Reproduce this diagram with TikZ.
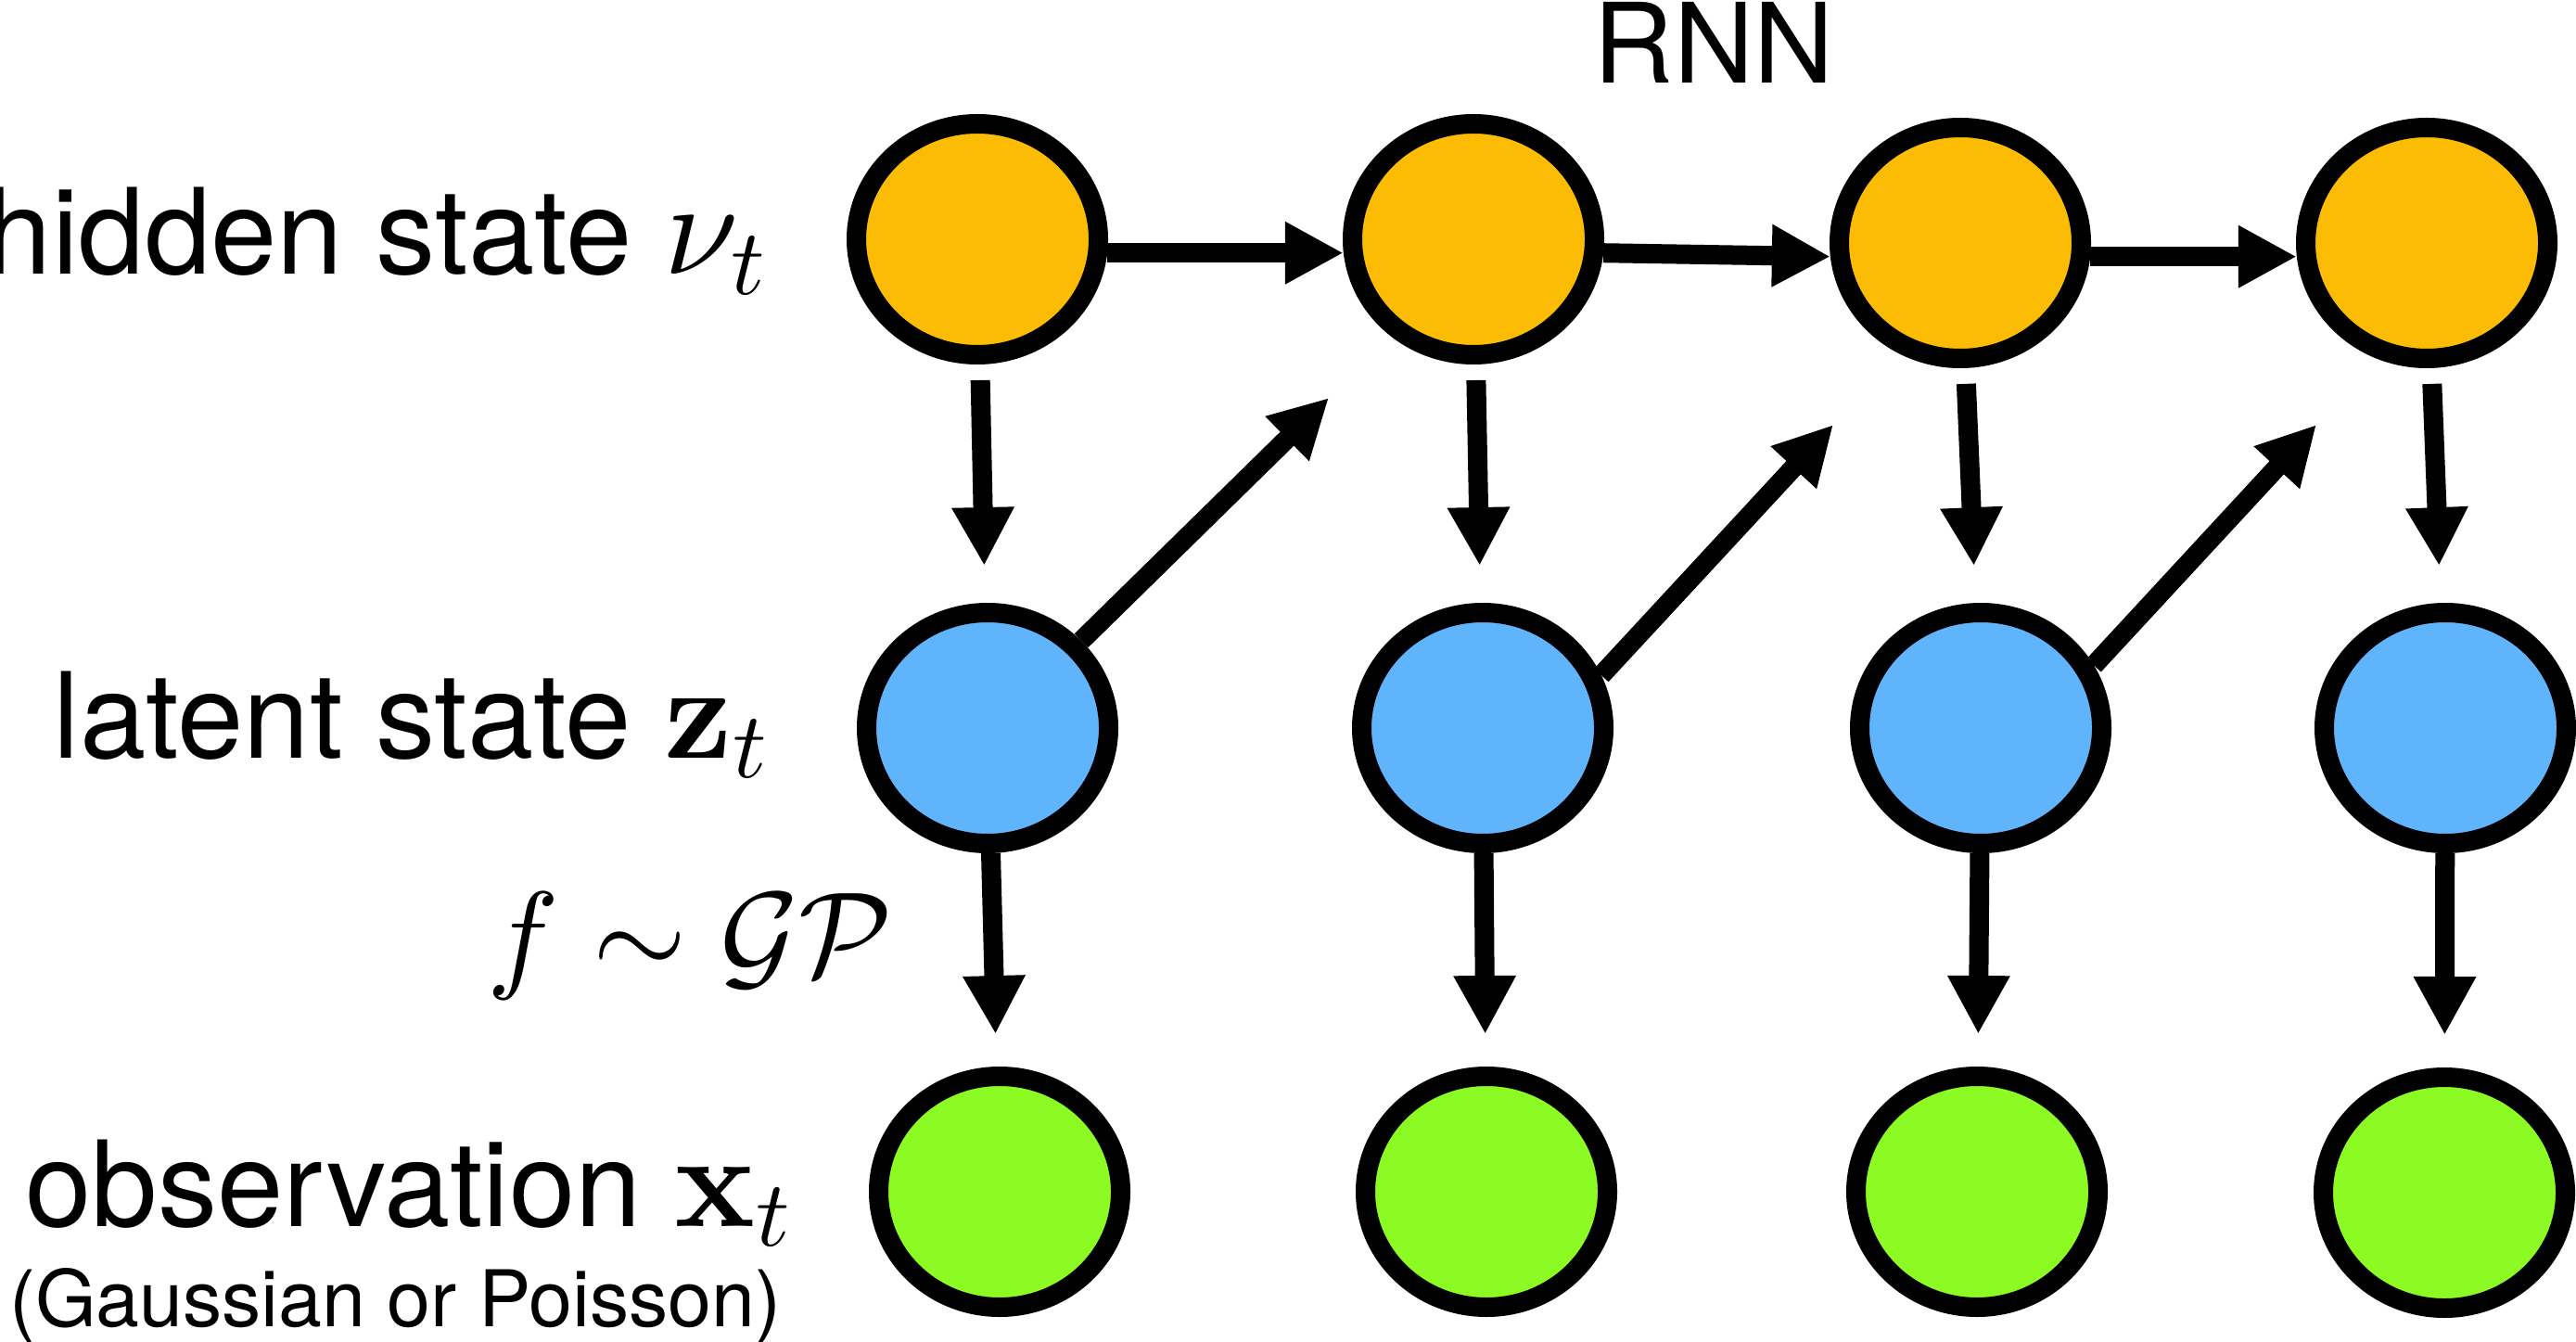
\documentclass[tikz,border=0pt]{standalone}
\usepackage[no-math]{fontspec}
\setmainfont{TeX Gyre Heros}
\usepackage{xcolor}
\usepackage{amssymb}
\usepackage{tikz}
\usetikzlibrary{arrows.meta,shapes.geometric}

% scalable cm math fonts
\DeclareFontShape{OML}{cmm}{m}{it}{<->cmmi10}{}
\DeclareFontShape{OMS}{cmsy}{m}{n}{<->cmsy10}{}
\DeclareFontShape{OT1}{cmr}{m}{n}{<->cmr10}{}
\DeclareFontShape{OT1}{cmr}{bx}{n}{<->cmbx10}{}

\definecolor{hidcol}{RGB}{252,188,4}
\definecolor{latcol}{RGB}{96,180,252}
\definecolor{obscol}{RGB}{140,251,35}

\tikzset{
  state/.style={ellipse, draw=black, line width=0.21cm, minimum width=2.61cm, minimum height=2.49cm, inner sep=0pt},
  hid/.style={state, fill=hidcol},
  lat/.style={state, fill=latcol},
  obs/.style={state, fill=obscol},
  arr/.style={line width=0.21cm, -{Triangle[length=0.63cm,width=0.63cm]}},
  lbl/.style={inner sep=0pt, font=\fontsize{36.5}{44}\selectfont}
}
\newcommand{\bigmath}[1]{{\fontsize{41}{48}\selectfont$#1$}}

\begin{document}
\begin{tikzpicture}
\useasboundingbox (0,0) rectangle (27.78,-14.47);

% labels
\node[lbl, anchor=base east] (lh) at (8.27,-2.96) {hidden state \bigmath{\nu_t}};
\node[lbl, anchor=base east] (lz) at (8.29,-8.17) {latent state \bigmath{\mathbf{z}_t}};
\node[lbl, anchor=base east] (lx) at (8.54,-13.22) {observation \bigmath{\mathbf{x}_t}};
\node[inner sep=0pt, anchor=base east, font=\fontsize{24}{29}\selectfont] (lg) at (8.43,-14.30) {(Gaussian or Poisson)};
\node[inner sep=0pt, anchor=base west, font=\fontsize{34}{40}\selectfont] (rnn) at (17.18,-0.90) {RNN};
\node[inner sep=0pt, anchor=base west, font=\fontsize{37}{44}\selectfont] (gp) at (5.25,-10.52) {$f\sim\mathcal{GP}$};

% hidden states
\node[hid] (h1) at (10.54,-2.58) {};
\node[hid] (h2) at (15.89,-2.58) {};
\node[hid] (h3) at (21.14,-2.62) {};
\node[hid] (h4) at (26.17,-2.62) {};

% latent states
\node[lat] (z1) at (10.65,-7.85) {};
\node[lat] (z2) at (15.99,-7.85) {};
\node[lat] (z3) at (21.36,-7.85) {};
\node[lat] (z4) at (26.37,-7.85) {};

% observations
\node[obs] (x1) at (10.78,-12.85) {};
\node[obs] (x2) at (16.03,-12.85) {};
\node[obs] (x3) at (21.32,-12.85) {};
\node[obs] (x4) at (26.36,-12.86) {};

\coordinate (r1) at (14.33,-4.29);
\coordinate (r2) at (19.77,-4.58);
\coordinate (r3) at (24.98,-4.58);

\draw[arr] (h1.-6) -- (h2.186);
\draw[arr] (h2.-6) -- (h3.186);
\draw[arr] (h3.-6) -- (h4.186);

\draw[arr, shorten <=0.17cm, shorten >=0.40cm] (h1) -- (z1);
\draw[arr, shorten <=0.17cm, shorten >=0.40cm] (h2) -- (z2);
\draw[arr, shorten <=0.17cm, shorten >=0.40cm] (h3) -- (z3);
\draw[arr, shorten <=0.17cm, shorten >=0.40cm] (h4) -- (z4);

\draw[arr] (z1.43) -- (r1);
\draw[arr] (z2.24) -- (r2);
\draw[arr] (z3.29) -- (r3);

\draw[arr, shorten >=0.35cm] (z1) -- (x1);
\draw[arr, shorten >=0.35cm] (z2) -- (x2);
\draw[arr, shorten >=0.35cm] (z3) -- (x3);
\draw[arr, shorten >=0.35cm] (z4) -- (x4);
\end{tikzpicture}
\end{document}
